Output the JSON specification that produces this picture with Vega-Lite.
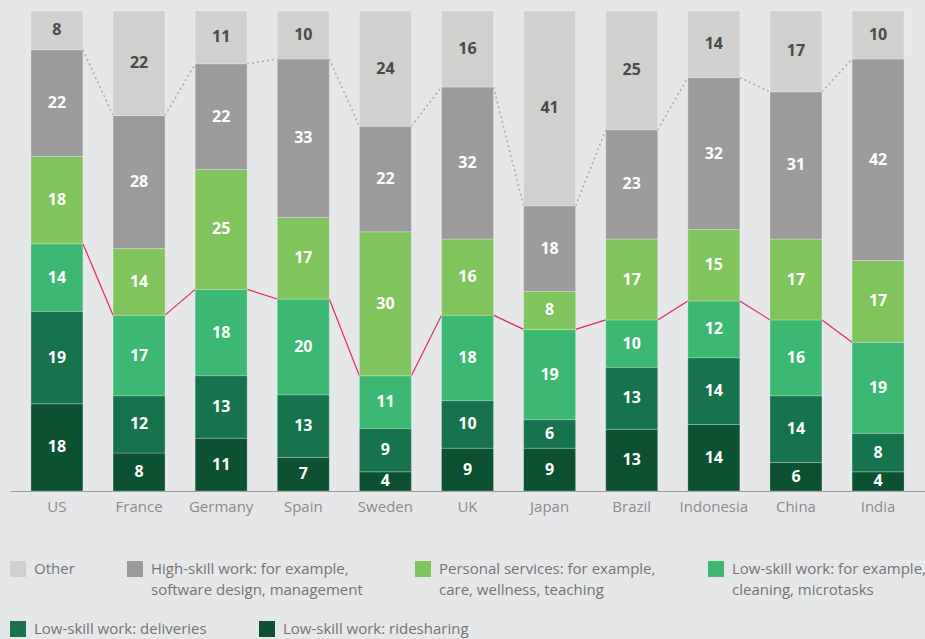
{
  "$schema": "https://vega.github.io/schema/vega-lite/v6.json",
  "autosize": {"type": "none"},
  "width": 915,
  "height": 480,
  "padding": {"left": 10, "top": 11, "right": 0, "bottom": 148},
  "background": "#e6e7e9",
  "config": {
    "view": {"stroke": null},
    "font": "Open Sans"
  },
  "data": {
    "values": [
      {"country": "US", "type": "Ridesharing", "v": 18},
      {"country": "US", "type": "Deliveries", "v": 19},
      {"country": "US", "type": "Cleaning", "v": 14},
      {"country": "US", "type": "Personal", "v": 18},
      {"country": "US", "type": "High-skill", "v": 22},
      {"country": "US", "type": "Other", "v": 8},
      {"country": "France", "type": "Ridesharing", "v": 8},
      {"country": "France", "type": "Deliveries", "v": 12},
      {"country": "France", "type": "Cleaning", "v": 17},
      {"country": "France", "type": "Personal", "v": 14},
      {"country": "France", "type": "High-skill", "v": 28},
      {"country": "France", "type": "Other", "v": 22},
      {"country": "Germany", "type": "Ridesharing", "v": 11},
      {"country": "Germany", "type": "Deliveries", "v": 13},
      {"country": "Germany", "type": "Cleaning", "v": 18},
      {"country": "Germany", "type": "Personal", "v": 25},
      {"country": "Germany", "type": "High-skill", "v": 22},
      {"country": "Germany", "type": "Other", "v": 11},
      {"country": "Spain", "type": "Ridesharing", "v": 7},
      {"country": "Spain", "type": "Deliveries", "v": 13},
      {"country": "Spain", "type": "Cleaning", "v": 20},
      {"country": "Spain", "type": "Personal", "v": 17},
      {"country": "Spain", "type": "High-skill", "v": 33},
      {"country": "Spain", "type": "Other", "v": 10},
      {"country": "Sweden", "type": "Ridesharing", "v": 4},
      {"country": "Sweden", "type": "Deliveries", "v": 9},
      {"country": "Sweden", "type": "Cleaning", "v": 11},
      {"country": "Sweden", "type": "Personal", "v": 30},
      {"country": "Sweden", "type": "High-skill", "v": 22},
      {"country": "Sweden", "type": "Other", "v": 24},
      {"country": "UK", "type": "Ridesharing", "v": 9},
      {"country": "UK", "type": "Deliveries", "v": 10},
      {"country": "UK", "type": "Cleaning", "v": 18},
      {"country": "UK", "type": "Personal", "v": 16},
      {"country": "UK", "type": "High-skill", "v": 32},
      {"country": "UK", "type": "Other", "v": 16},
      {"country": "Japan", "type": "Ridesharing", "v": 9},
      {"country": "Japan", "type": "Deliveries", "v": 6},
      {"country": "Japan", "type": "Cleaning", "v": 19},
      {"country": "Japan", "type": "Personal", "v": 8},
      {"country": "Japan", "type": "High-skill", "v": 18},
      {"country": "Japan", "type": "Other", "v": 41},
      {"country": "Brazil", "type": "Ridesharing", "v": 13},
      {"country": "Brazil", "type": "Deliveries", "v": 13},
      {"country": "Brazil", "type": "Cleaning", "v": 10},
      {"country": "Brazil", "type": "Personal", "v": 17},
      {"country": "Brazil", "type": "High-skill", "v": 23},
      {"country": "Brazil", "type": "Other", "v": 25},
      {"country": "Indonesia", "type": "Ridesharing", "v": 14},
      {"country": "Indonesia", "type": "Deliveries", "v": 14},
      {"country": "Indonesia", "type": "Cleaning", "v": 12},
      {"country": "Indonesia", "type": "Personal", "v": 15},
      {"country": "Indonesia", "type": "High-skill", "v": 32},
      {"country": "Indonesia", "type": "Other", "v": 14},
      {"country": "China", "type": "Ridesharing", "v": 6},
      {"country": "China", "type": "Deliveries", "v": 14},
      {"country": "China", "type": "Cleaning", "v": 16},
      {"country": "China", "type": "Personal", "v": 17},
      {"country": "China", "type": "High-skill", "v": 31},
      {"country": "China", "type": "Other", "v": 17},
      {"country": "India", "type": "Ridesharing", "v": 4},
      {"country": "India", "type": "Deliveries", "v": 8},
      {"country": "India", "type": "Cleaning", "v": 19},
      {"country": "India", "type": "Personal", "v": 17},
      {"country": "India", "type": "High-skill", "v": 42},
      {"country": "India", "type": "Other", "v": 10}
    ]
  },
  "transform": [
    {"calculate": "indexof(['Ridesharing','Deliveries','Cleaning','Personal','High-skill','Other'], datum.type)", "as": "o"},
    {"stack": "v", "groupby": ["country"], "sort": [{"field": "o", "order": "ascending"}], "offset": "normalize", "as": ["y0", "y1"]},
    {"calculate": "(datum.y0 + datum.y1) / 2", "as": "mid"}
  ],
  "resolve": {"scale": {"x": "independent"}},
  "layer": [
    {
      "transform": [
        {"filter": "datum.type === 'High-skill' || datum.type === 'Cleaning'"},
        {"calculate": "indexof(['US','France','Germany','Spain','Sweden','UK','Japan','Brazil','Indonesia','China','India'], datum.country)", "as": "ci"},
        {"window": [{"op": "lead", "field": "y1", "as": "ny"}], "groupby": ["type"], "sort": [{"field": "ci", "order": "ascending"}]},
        {"filter": "datum.ny != null"},
        {"calculate": "datum.type + '-' + datum.ci", "as": "seg"},
        {"fold": ["y1", "ny"], "as": ["end", "yy"]},
        {"calculate": "datum.end === 'y1' ? datum.ci + 0.633 : datum.ci + 1", "as": "px"}
      ],
      "encoding": {
        "x": {"field": "px", "type": "quantitative", "scale": {"domain": [-0.255, 10.888], "nice": false, "zero": false}, "axis": null},
        "y": {"field": "yy", "type": "quantitative"},
        "detail": {"field": "seg", "type": "nominal"}
      },
      "layer": [
        {
          "transform": [{"filter": "datum.type === 'High-skill'"}],
          "mark": {"type": "line", "stroke": "#a9a9a9", "strokeWidth": 1.5, "strokeDash": [2, 3]}
        },
        {
          "transform": [{"filter": "datum.type === 'Cleaning'"}],
          "mark": {"type": "line", "stroke": "#e4265f", "strokeWidth": 1.2}
        }
      ]
    },
    {
      "encoding": {
        "x": {
          "field": "country", "type": "nominal",
          "scale": {"domain": ["US","France","Germany","Spain","Sweden","UK","Japan","Brazil","Indonesia","China","India"], "paddingInner": 0.367, "paddingOuter": 0.255},
          "axis": {"title": null, "ticks": false, "domainColor": "#9a9a9a", "domainWidth": 1, "labelColor": "#8a8a8a", "labelFontSize": 15, "labelPadding": 8, "labelAngle": 0}
        }
      },
      "layer": [
        {
          "transform": [{"filter": "datum.type === 'Other' || datum.type === 'High-skill' || datum.type === 'Personal' || datum.type === 'Cleaning'"}],
          "mark": {"type": "bar", "stroke": "#ffffff", "strokeOpacity": 0.25, "strokeWidth": 1},
          "encoding": {
            "y": {"field": "y0", "type": "quantitative", "scale": {"domain": [0, 1], "nice": false}, "axis": null},
            "y2": {"field": "y1"},
            "color": {
              "field": "type", "type": "nominal",
              "scale": {
                "domain": ["Other", "High-skill", "Personal", "Cleaning"],
                "range": ["#d0d0ce", "#9b9b9b", "#7fc45c", "#3cb873"]
              },
              "legend": {
                "title": null,
                "orient": "none",
                "legendX": 0,
                "legendY": 550,
                "direction": "horizontal",
                "columns": 4,
                "columnPadding": 52,
                "symbolType": "square",
                "symbolSize": 256,
                "symbolStrokeWidth": 0,
                "symbolOpacity": 1,
                "labelFontSize": 15,
                "labelColor": "#727272",
                "labelOffset": 8,
                "labelLimit": 400,
                "labelExpr": "datum.label === 'Other' ? ['Other', ' '] : datum.label === 'High-skill' ? ['High-skill work: for example,', 'software design, management'] : datum.label === 'Personal' ? ['Personal services: for example,', 'care, wellness, teaching'] : ['Low-skill work: for example,', 'cleaning, microtasks']",
                "encoding": {"labels": {"lineHeight": {"value": 21}}}
              }
            }
          }
        },
        {
          "transform": [{"filter": "datum.type === 'Deliveries' || datum.type === 'Ridesharing'"}],
          "mark": {"type": "bar", "stroke": "#ffffff", "strokeOpacity": 0.25, "strokeWidth": 1},
          "encoding": {
            "y": {"field": "y0", "type": "quantitative"},
            "y2": {"field": "y1"},
            "fill": {
              "field": "type", "type": "nominal",
              "scale": {
                "domain": ["Deliveries", "Ridesharing"],
                "range": ["#16734d", "#0c5131"]
              },
              "legend": {
                "title": null,
                "orient": "none",
                "legendX": 0,
                "legendY": 610,
                "direction": "horizontal",
                "columns": 2,
                "columnPadding": 52,
                "symbolType": "square",
                "symbolSize": 256,
                "symbolStrokeWidth": 0,
                "symbolOpacity": 1,
                "labelFontSize": 15,
                "labelColor": "#727272",
                "labelOffset": 8,
                "labelLimit": 400,
                "labelExpr": "datum.label === 'Deliveries' ? 'Low-skill work: deliveries' : 'Low-skill work: ridesharing'"
              }
            }
          }
        },
        {
          "mark": {"type": "text", "fontSize": 16, "fontWeight": "bold", "baseline": "middle", "align": "center"},
          "encoding": {
            "y": {"field": "mid", "type": "quantitative"},
            "text": {"field": "v", "type": "quantitative"},
            "fill": {"condition": {"test": "datum.type === 'Other'", "value": "#4a4a4a"}, "value": "#ffffff"}
          }
        }
      ]
    }
  ]
}
